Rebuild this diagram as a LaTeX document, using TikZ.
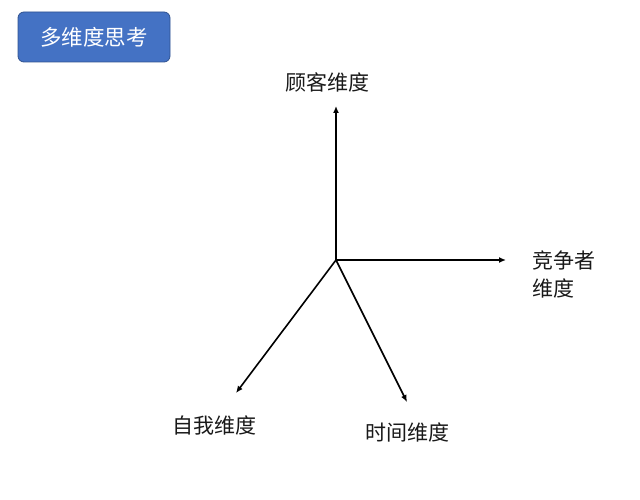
\documentclass[tikz,border=0pt]{standalone}
\usepackage{fontspec}
\newfontfamily\cjk{Noto Sans CJK SC}
\usetikzlibrary{arrows.meta}
\definecolor{titleblue}{HTML}{4472C4}
\definecolor{titleedge}{HTML}{2F528F}
\begin{document}
\begin{tikzpicture}[x=1pt,y=-1pt,
  lbl/.style={font=\cjk\fontsize{21}{28}\selectfont, text=black!90, inner sep=0pt, align=left},
  axis/.style={line width=1.6pt, -{Latex[length=7pt,width=6pt]}}]
\useasboundingbox (0,0) rectangle (640,500);
\node[draw=titleedge, line width=0.8pt, fill=titleblue, rounded corners=6pt,
  minimum width=152pt, minimum height=50pt, inner sep=0pt,
  font=\cjk\fontsize{21.5}{24}\selectfont, text=white] (title) at (94,37) {多维度思考};
\coordinate (o) at (336,260);
\coordinate (up) at (336,106);
\coordinate (rt) at (506,260);
\coordinate (ll) at (236,393);
\coordinate (lr) at (407,402);
\draw[axis] (o) -- (up);
\draw[axis] (o) -- (rt);
\draw[axis] (o) -- (ll);
\draw[axis] (o) -- (lr);
\node[lbl] (gk) at (327,82) {顾客维度};
\node[lbl, anchor=west] (jz) at (532,274) {竞争者\\维度};
\node[lbl] (zw) at (214,425) {自我维度};
\node[lbl] (sj) at (407,432) {时间维度};
\end{tikzpicture}
\end{document}
